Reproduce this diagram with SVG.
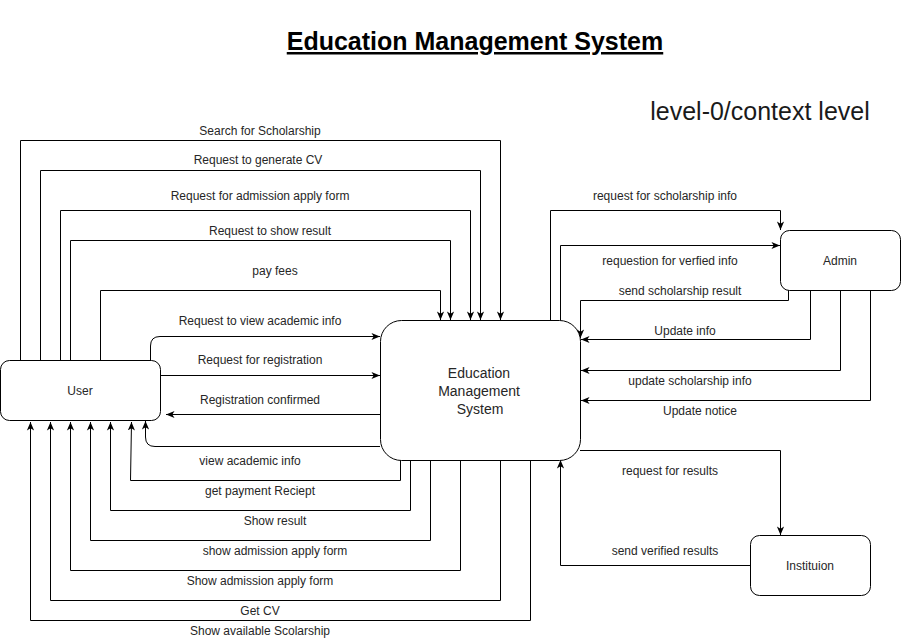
<svg xmlns="http://www.w3.org/2000/svg" width="901" height="641" viewBox="0 0 901 641">
<style>
.node{fill:#fff;stroke:#000;stroke-width:1}
.nt{font-family:"Liberation Sans",Arial,sans-serif;font-size:12px;fill:#262626;text-anchor:middle}
.big{font-family:"Liberation Sans",Arial,sans-serif;font-size:14px;fill:#262626;text-anchor:middle}
.lbl{font-family:"Liberation Sans",Arial,sans-serif;font-size:12px;fill:#262626;text-anchor:middle}
.c{fill:none;stroke:#000;stroke-width:1;marker-end:url(#arr)}
</style>
<defs>
<marker id="arr" viewBox="0 0 10 10" refX="9.5" refY="5" markerWidth="9" markerHeight="9" markerUnits="userSpaceOnUse" orient="auto">
<path d="M0,1 L9.5,5 L0,9 L2.5,5 z" fill="#000"/>
</marker>
</defs>
<rect width="901" height="641" fill="#fff"/>
<text x="475" y="50" font-family="'Liberation Sans',Arial,sans-serif" font-size="25" font-weight="bold" text-anchor="middle" text-decoration="underline" fill="#000">Education Management System</text>
<text x="760" y="120" font-family="'Liberation Sans',Arial,sans-serif" font-size="25" text-anchor="middle" fill="#1a1a1a">level-0/context level</text>

<g id="connectors">
<path class="c" d="M20.5 360 V140.5 H500.5 V320"/>
<path class="c" d="M40.5 360 V170.5 H480.5 V320"/>
<path class="c" d="M60.5 360 V210.5 H470.5 V320"/>
<path class="c" d="M70.5 360 V240.5 H450.5 V320"/>
<path class="c" d="M100.5 360 V290.5 H440.5 V320"/>
<path class="c" d="M150.5 360 V346 Q150.5 336.5 160 336.5 H380"/>
<path class="c" d="M160 375.5 H380"/>
<path class="c" d="M380 414.5 H166"/>
<path class="c" d="M380 446.5 H155 Q145.5 446.5 145.5 437 V421"/>
<path class="c" d="M400.5 460 V480.5 H130.5 L131.5 422"/>
<path class="c" d="M410.5 460 V510.5 H110.5 V422"/>
<path class="c" d="M430.5 460 V540.5 H90.5 V422"/>
<path class="c" d="M460.5 460 V570.5 H70.5 V422"/>
<path class="c" d="M500.5 460 V600.5 H50.5 V422"/>
<path class="c" d="M530.5 460 V620.5 H30.5 V422"/>
<path class="c" d="M550.5 320 V210.5 H780.5 V230"/>
<path class="c" d="M560.5 320 V245.5 H780"/>
<path class="c" d="M788.5 290 V300.5 H580.5 V338"/>
<path class="c" d="M810.5 290 V339.5 H581"/>
<path class="c" d="M840.5 290 V370.5 H581"/>
<path class="c" d="M870.5 290 V400.5 H581"/>
<path class="c" d="M580 450.5 H780.5 V535"/>
<path class="c" d="M750 565.5 H560.5 V460"/>
<text class="lbl" x="260" y="135">Search for Scholarship</text>
<text class="lbl" x="258" y="164">Request to generate CV</text>
<text class="lbl" x="260" y="200">Request for admission apply form</text>
<text class="lbl" x="270" y="235">Request to show result</text>
<text class="lbl" x="275" y="275">pay fees</text>
<text class="lbl" x="260" y="325">Request to view academic info</text>
<text class="lbl" x="260" y="364">Request for registration</text>
<text class="lbl" x="260" y="404">Registration confirmed</text>
<text class="lbl" x="250" y="465">view academic info</text>
<text class="lbl" x="260" y="495">get payment Reciept</text>
<text class="lbl" x="275" y="525">Show result</text>
<text class="lbl" x="275" y="555">show admission apply form</text>
<text class="lbl" x="260" y="585">Show admission apply form</text>
<text class="lbl" x="260" y="615">Get CV</text>
<text class="lbl" x="260" y="635">Show available Scolarship</text>
<text class="lbl" x="665" y="200">request for scholarship info</text>
<text class="lbl" x="670" y="265">requestion for verfied info</text>
<text class="lbl" x="680" y="295">send scholarship result</text>
<text class="lbl" x="685" y="335">Update info</text>
<text class="lbl" x="690" y="385">update scholarship info</text>
<text class="lbl" x="700" y="415">Update notice</text>
<text class="lbl" x="670" y="475">request for results</text>
<text class="lbl" x="665" y="555">send verified results</text>
</g>

<g id="user">
<rect class="node" x="0.5" y="360.5" width="160" height="60" rx="9" ry="9"/>
<text class="nt" x="80" y="395">User</text>
</g>
<g id="ems">
<rect class="node" x="380.5" y="320.5" width="200" height="140" rx="21" ry="21"/>
<text class="big" x="479" y="378">Education</text>
<text class="big" x="479" y="396">Management</text>
<text class="big" x="480" y="414">System</text>
</g>
<g id="admin">
<rect class="node" x="780.5" y="230.5" width="120" height="60" rx="9" ry="9"/>
<text class="nt" x="840" y="265">Admin</text>
</g>
<g id="institution">
<rect class="node" x="750.5" y="535.5" width="120" height="60" rx="9" ry="9"/>
<text class="nt" x="810" y="570">Instituion</text>
</g>
</svg>
